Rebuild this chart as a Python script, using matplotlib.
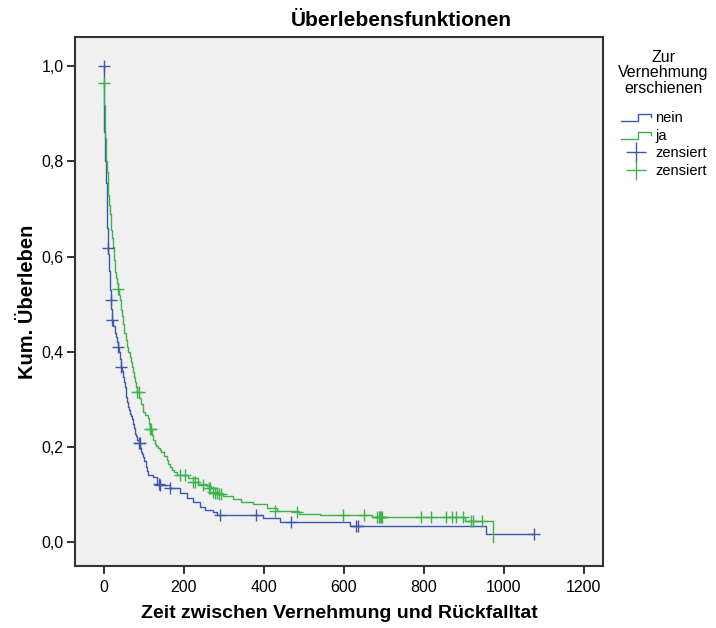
import matplotlib
matplotlib.use("Agg")
import matplotlib.pyplot as plt
from matplotlib.lines import Line2D
from matplotlib.legend_handler import HandlerBase

# survival curve, group "nein" (step function)
nein_t = [0, 0.5, 1, 2, 3, 4, 5, 6, 7, 8, 9, 10, 11, 12.5, 14, 15, 16, 17.5, 19, 20.5, 21.7,
          24, 27.5, 30, 33, 35.8, 38, 40, 42.5, 45, 48, 50, 52.5, 55, 56.7, 58.5, 60.8, 63, 65,
          67, 70, 73.3, 75, 77.5, 80, 84, 88, 91, 94, 96, 98, 101, 105, 108, 111, 123, 132, 140,
          165, 186, 190, 207, 223, 240, 252, 273, 282, 398, 440, 615, 955, 1075]
nein_s = [1.0, 0.90, 0.861, 0.842, 0.824, 0.80, 0.78, 0.755, 0.73, 0.70, 0.66, 0.618, 0.605,
          0.592, 0.57, 0.55, 0.53, 0.508, 0.49, 0.475, 0.466, 0.455, 0.439, 0.43, 0.42, 0.410,
          0.40, 0.385, 0.368, 0.36, 0.347, 0.337, 0.326, 0.315, 0.305, 0.295, 0.284, 0.277,
          0.27, 0.265, 0.258, 0.249, 0.24, 0.228, 0.222, 0.215, 0.209, 0.198, 0.19, 0.185,
          0.179, 0.17, 0.158, 0.149, 0.141, 0.137, 0.123, 0.120, 0.114, 0.113, 0.104, 0.092,
          0.085, 0.074, 0.067, 0.064, 0.058, 0.050, 0.043, 0.034, 0.017, 0.017]
nein_cens_t = [0, 10, 17.5, 21.7, 36, 43, 87, 90, 138, 141, 165, 290, 380, 468, 630, 636, 1075]
nein_cens_s = [1.0, 0.618, 0.508, 0.466, 0.410, 0.368, 0.209, 0.209, 0.122, 0.120, 0.114,
               0.057, 0.057, 0.043, 0.034, 0.034, 0.017]

# survival curve, group "ja"
ja_t = [0, 0.5, 1, 2, 3.3, 5, 6.5, 8.3, 10, 11.7, 13.3, 15, 17, 19, 20.8, 23, 25.8, 27.5, 29.2,
        31, 33, 35.8, 38, 40, 42.5, 45, 48, 51, 55, 58, 61, 65, 68, 70.8, 73, 75.8, 78, 81, 84,
        88, 94, 98, 104, 111, 113, 115, 120, 124, 127.5, 131, 136, 140, 144, 150, 157, 161,
        165, 170, 176, 182, 211, 236, 257, 268, 282, 298, 323, 344, 373, 407, 432, 489, 540,
        670, 904, 973]
ja_s = [0.964, 0.93, 0.918, 0.88, 0.849, 0.82, 0.80, 0.777, 0.75, 0.73, 0.708, 0.69, 0.67,
        0.655, 0.639, 0.62, 0.592, 0.58, 0.567, 0.555, 0.545, 0.532, 0.52, 0.508, 0.487, 0.475,
        0.459, 0.44, 0.424, 0.41, 0.40, 0.389, 0.378, 0.368, 0.358, 0.347, 0.336, 0.325, 0.316,
        0.303, 0.291, 0.274, 0.267, 0.260, 0.248, 0.237, 0.225, 0.215, 0.207, 0.202, 0.197,
        0.193, 0.190, 0.18, 0.172, 0.165, 0.158, 0.152, 0.147, 0.142, 0.134, 0.123, 0.118,
        0.113, 0.102, 0.097, 0.090, 0.085, 0.081, 0.071, 0.066, 0.059, 0.057, 0.053, 0.044, 0.0]
ja_cens_t = [0, 36, 84, 87, 115, 118, 190, 202, 222, 228, 248, 262, 266, 272, 277, 282, 287, 292,
             428, 483, 598, 650, 684, 687, 690, 693, 696, 792, 818, 855, 870, 880, 897, 917, 922, 945]
ja_cens_s = [0.964, 0.532, 0.316, 0.316, 0.237, 0.237, 0.141, 0.141, 0.127, 0.127, 0.120, 0.113,
             0.113, 0.105, 0.104, 0.103, 0.102, 0.102, 0.066, 0.064, 0.057, 0.057, 0.053, 0.053,
             0.053, 0.053, 0.053, 0.053, 0.053, 0.053, 0.053, 0.053, 0.053, 0.044, 0.044, 0.044]

x_ticks = [0, 200, 400, 600, 800, 1000, 1200]
y_ticks = [0.0, 0.2, 0.4, 0.6, 0.8, 1.0]

blue = '#3e58ac'
green = '#3cb44b'

plt.rcParams['font.family'] = ['Liberation Sans', 'DejaVu Sans']


class StepHandler(HandlerBase):
    # small step glyph like the SPSS legend
    def create_artists(self, legend, orig_handle, xdescent, ydescent, width, height, fontsize, trans):
        x0, x1 = -xdescent, -xdescent + width
        xm = x0 + width * 0.55
        ylo, yhi = -ydescent + height * 0.1, -ydescent + height * 0.8
        line = Line2D([x0, xm, xm, x1, x1], [ylo, ylo, yhi, yhi, yhi - height * 0.3],
                      color=orig_handle.get_color(), lw=orig_handle.get_linewidth())
        line.set_transform(trans)
        return [line]


fig = plt.figure(figsize=(7.16, 6.28), dpi=100)
ax = fig.add_axes([0.1047, 0.0987, 0.7375, 0.8424])
ax.set_facecolor('#f0f0f0')

ax.plot(nein_t, nein_s, drawstyle='steps-post', color=blue, lw=1.0)
ax.plot(ja_t, ja_s, drawstyle='steps-post', color=green, lw=1.0)
ax.plot(nein_cens_t, nein_cens_s, ls='none', marker='+', ms=8, mew=1.0, color=blue)
ax.plot(ja_cens_t, ja_cens_s, ls='none', marker='+', ms=8, mew=1.0, color=green)

ax.set_xlim(-72, 1248)
ax.set_ylim(-0.05, 1.061)
ax.set_xticks(x_ticks)
ax.set_xticklabels([str(v) for v in x_ticks], fontsize=11.5)
ax.set_yticks(y_ticks)
ax.set_yticklabels([f'{v:.1f}'.replace('.', ',') for v in y_ticks], fontsize=11.5)
ax.tick_params(direction='out', length=6, width=1.3, color='#222222', pad=2)
ax.tick_params(axis='x', pad=4)
for sp in ax.spines.values():
    sp.set_color('#333333')
    sp.set_linewidth(1.5)

ax.set_xlabel('Zeit zwischen Vernehmung und Rückfalltat', fontsize=14, fontweight='bold', labelpad=7)
ax.set_ylabel('Kum. Überleben', fontsize=14.5, fontweight='bold', labelpad=3)
fig.text(0.56, 0.968, 'Überlebensfunktionen', fontsize=15, fontweight='bold', ha='center', va='center')

# legend title as free text, entries below it
fig.text(0.926, 0.884, 'Zur\nVernehmung\nerschienen', fontsize=11.5, ha='center', va='center',
         multialignment='center', linespacing=1.05)
handles = [Line2D([], [], color=blue, lw=1.0), Line2D([], [], color=green, lw=1.0),
           Line2D([], [], ls='none', marker='+', ms=14, mew=1.0, color=blue),
           Line2D([], [], ls='none', marker='+', ms=14, mew=1.0, color=green)]
leg = fig.legend(handles, ['nein', 'ja', 'zensiert', 'zensiert'], loc='upper left',
                 bbox_to_anchor=(0.868, 0.823), frameon=False, fontsize=10.5,
                 handlelength=2.0, handletextpad=0.3, labelspacing=0.25, borderaxespad=0,
                 borderpad=0, handler_map={handles[0]: StepHandler(), handles[1]: StepHandler()})

fig.savefig('out.png', dpi=100)
